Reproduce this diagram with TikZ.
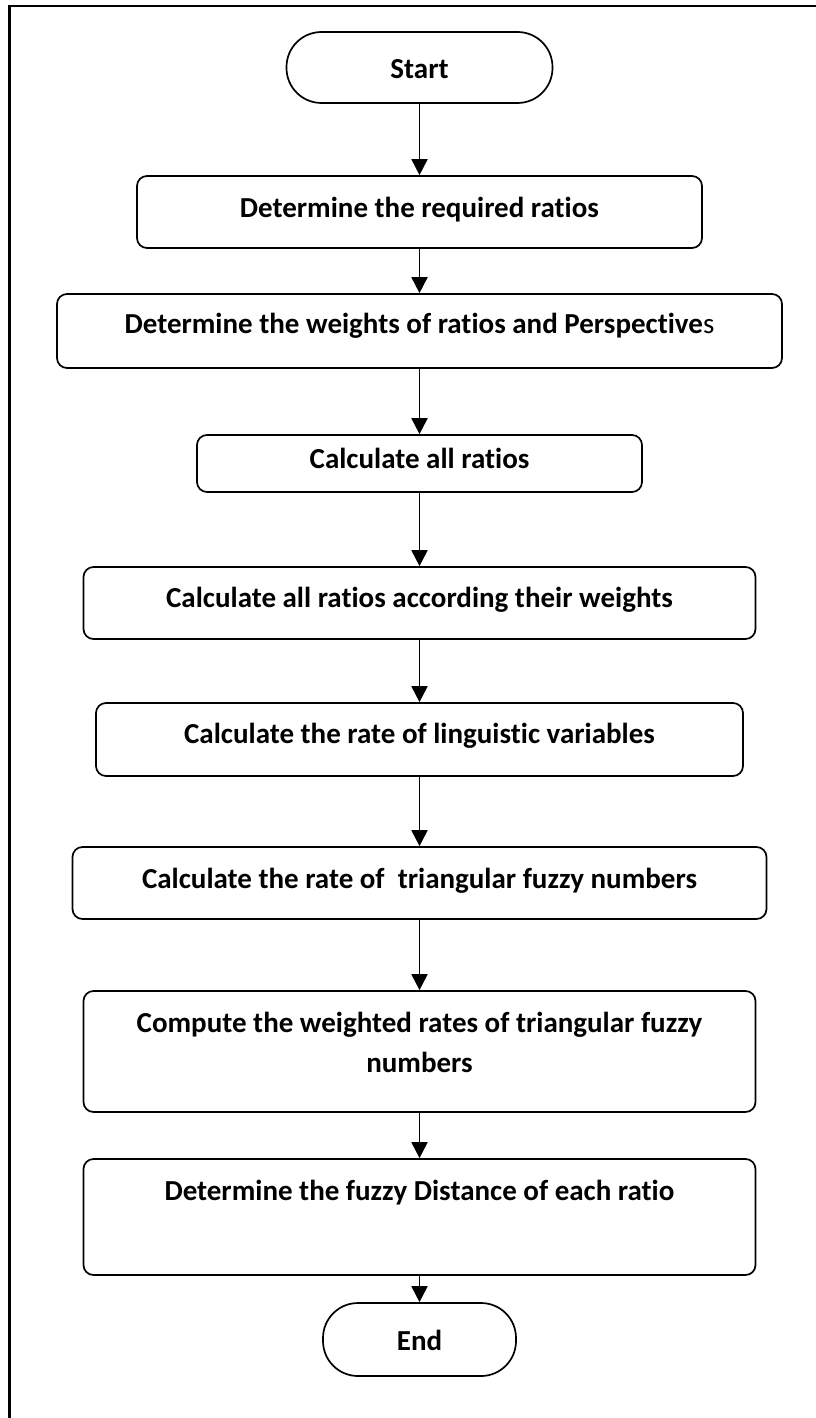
\documentclass[tikz,border=0pt]{standalone}
\usepackage{fontspec}
\setmainfont{Carlito}[Ligatures=NoCommon]
\usetikzlibrary{arrows.meta}
\tikzset{
  stepbox/.style={draw=black, line width=1.7pt, rounded corners=10pt, inner sep=0pt, fill=white},
  termbox/.style={draw=black, line width=1.7pt, rounded corners=35pt, inner sep=0pt, fill=white},
  txt/.style={anchor=base, inner sep=0pt, font=\fontsize{29}{40}\selectfont\bfseries, align=center},
  flow/.style={draw=black, line width=1.9pt, -{Triangle[width=16pt,length=16pt]}},
  frame/.style={draw=black, line width=2.4pt}
}
\begin{document}
\begin{tikzpicture}[x=1pt,y=-1pt]
\useasboundingbox (0,0) rectangle (815,1418);
\draw[frame] (9.5,1420) -- (9.5,6) -- (817,6);

\node[termbox, minimum width=266pt, minimum height=71pt] (start) at (419.5,67.5) {};
\node[txt] (tstart) at (419.5,79) {Start};

\node[stepbox, minimum width=565pt, minimum height=72pt] (b1) at (419.5,212) {};
\node[txt] (t1) at (419.5,217) {Determine the required ratios};

\node[stepbox, minimum width=725pt, minimum height=74pt] (b2) at (419.5,331) {};
\node[txt] (t2) at (419.5,333) {Determine the weights of ratios and Perspective\mdseries s};

\node[stepbox, minimum width=445pt, minimum height=57pt] (b3) at (419.5,463.5) {};
\node[txt] (t3) at (419.5,468) {Calculate all ratios};

\node[stepbox, minimum width=672pt, minimum height=72pt] (b4) at (419.5,603) {};
\node[txt] (t4) at (419.5,607) {Calculate all ratios according their weights};

\node[stepbox, minimum width=647pt, minimum height=73pt] (b5) at (419.5,739.5) {};
\node[txt] (t5) at (419.5,743) {Calculate the rate of linguistic variables};

\node[stepbox, minimum width=694pt, minimum height=72pt] (b6) at (419.5,883) {};
\node[txt] (t6) at (419.5,888) {Calculate the rate of\ \ triangular fuzzy numbers};

\node[stepbox, minimum width=672pt, minimum height=121pt] (b7) at (419.5,1051.5) {};
\node[txt] (t7a) at (419.5,1032) {Compute the weighted rates of triangular fuzzy};
\node[txt] (t7b) at (419.5,1072) {numbers};

\node[stepbox, minimum width=672pt, minimum height=116pt] (b8) at (419.5,1217) {};
\node[txt] (t8) at (419.5,1200) {Determine the fuzzy Distance of each ratio};

\node[termbox, minimum width=193pt, minimum height=73pt] (end) at (419.5,1339.5) {};
\node[txt] (tend) at (419.5,1350) {End};

\draw[flow] (start.south) -- (b1.north);
\draw[flow] (b1.south) -- (b2.north);
\draw[flow] (b2.south) -- (b3.north);
\draw[flow] (b3.south) -- (b4.north);
\draw[flow] (b4.south) -- (b5.north);
\draw[flow] (b5.south) -- (b6.north);
\draw[flow] (b6.south) -- (b7.north);
\draw[flow] (b7.south) -- (b8.north);
\draw[flow] (b8.south) -- (end.north);
\end{tikzpicture}
\end{document}
